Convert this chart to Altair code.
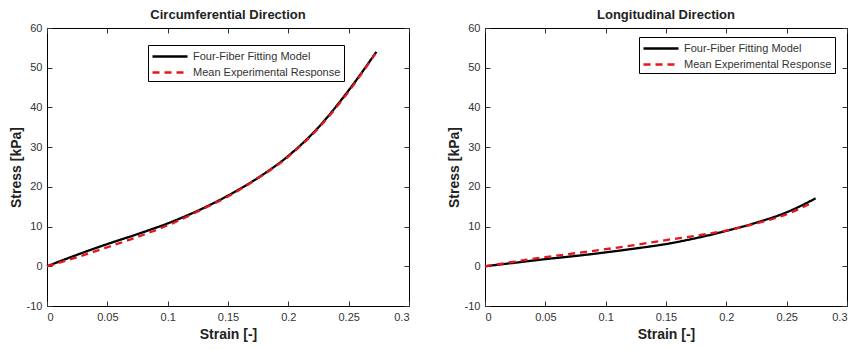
import altair as alt
import pandas as pd

SERIES = ["Four-Fiber Fitting Model", "Mean Experimental Response"]
X_TICKS = [0, 0.05, 0.1, 0.15, 0.2, 0.25, 0.3]
Y_TICKS = [-10, 0, 10, 20, 30, 40, 50, 60]

# Circumferential direction
circ_model_strain = [0, 0.025, 0.05, 0.075, 0.1, 0.125, 0.15, 0.175, 0.2, 0.225, 0.25, 0.273]
circ_model_stress = [0, 2.9, 5.6, 8.1, 10.8, 14.0, 17.8, 22.3, 27.8, 35.0, 44.3, 54.0]
circ_exp_strain = [0, 0.025, 0.05, 0.075, 0.1, 0.125, 0.15, 0.175, 0.2, 0.225, 0.25, 0.272]
circ_exp_stress = [0, 2.3, 4.8, 7.4, 10.3, 13.8, 17.6, 22.2, 27.6, 34.8, 44.0, 53.5]

# Longitudinal direction
long_model_strain = [0, 0.025, 0.05, 0.075, 0.1, 0.125, 0.15, 0.175, 0.2, 0.225, 0.25, 0.274]
long_model_stress = [0, 0.9, 1.8, 2.6, 3.5, 4.5, 5.6, 7.1, 8.9, 11.0, 13.6, 17.1]
long_exp_strain = [0, 0.025, 0.05, 0.075, 0.1, 0.125, 0.15, 0.175, 0.2, 0.225, 0.25, 0.271]
long_exp_stress = [0, 1.2, 2.3, 3.3, 4.3, 5.4, 6.6, 7.7, 9.0, 10.8, 13.1, 16.0]

H = 278
LABEL_COLOR = "#333333"


def panel(title, mx, my, ex, ey, lx, ly, width):
    df = pd.DataFrame({
        "strain": mx + ex,
        "stress": my + ey,
        "series": [SERIES[0]] * len(mx) + [SERIES[1]] * len(ex),
    })
    xs = alt.Scale(domain=[0, 0.3], nice=False, zero=False)
    ys = alt.Scale(domain=[-10, 60], nice=False, zero=False)
    legend = alt.Legend(
        title=None, orient="none", legendX=lx, legendY=ly,
        strokeColor="black", fillColor="white", padding=3,
        labelFontSize=11, labelColor=LABEL_COLOR, labelFont="Liberation Sans",
        symbolType="M-1,0H4", symbolSize=196, symbolStrokeWidth=2.5,
        rowPadding=2, labelOffset=25,
    )
    main = alt.Chart(df).mark_line(strokeWidth=2.3, interpolate="monotone").encode(
        x=alt.X("strain:Q", scale=xs, title="Strain [-]",
                axis=alt.Axis(values=X_TICKS, orient="bottom", offset=-5, tickSize=5,
                              domain=False, labelPadding=5, titlePadding=5,
                              labelExpr="'' + datum.value")),
        y=alt.Y("stress:Q", scale=ys, title="Stress [kPa]",
                axis=alt.Axis(values=Y_TICKS, orient="left", offset=-5, tickSize=5,
                              domain=False, labelPadding=5, titlePadding=3,
                              labelExpr="'' + datum.value")),
        color=alt.Color("series:N", scale=alt.Scale(domain=SERIES, range=["#000000", "#e3171d"]),
                        legend=legend),
        strokeDash=alt.StrokeDash("series:N", scale=alt.Scale(domain=SERIES, range=[[1, 0], [7, 5]]),
                                  legend=legend),
    )
    frame = alt.Chart(df).mark_line(strokeOpacity=0).encode(
        x=alt.X("strain:Q", scale=xs,
                axis=alt.Axis(values=X_TICKS, orient="top", offset=-5, tickSize=5,
                              domain=False, labels=False, title=None)),
        y=alt.Y("stress:Q", scale=ys,
                axis=alt.Axis(values=Y_TICKS, orient="right", offset=-5, tickSize=5,
                              domain=False, labels=False, title=None)),
        detail="series:N",
    )
    return alt.layer(frame, main).resolve_axis(x="independent", y="independent").properties(
        width=width, height=H,
        title=alt.TitleParams(title, fontSize=13, fontWeight="bold", offset=0,
                              font="Liberation Sans", color="#222222"),
    )


left = panel("Circumferential Direction", circ_model_strain, circ_model_stress,
             circ_exp_strain, circ_exp_stress, 101, 17, 362)
right = panel("Longitudinal Direction", long_model_strain, long_model_stress,
              long_exp_strain, long_exp_stress, 154, 9, 362)

chart = alt.hconcat(left, right, spacing=36).resolve_scale(
    color="independent", strokeDash="independent"
).configure(
    font="Liberation Sans", padding=0, background="white"
).configure_view(
    stroke="#000000", strokeWidth=1
).configure_axis(
    grid=False, labelFontSize=11, labelColor=LABEL_COLOR, tickColor="#333333",
    titleFontSize=14, titleFontWeight="bold", titleColor="#222222",
    labelFont="Liberation Sans", titleFont="Liberation Sans",
)

chart.save("out.html", embed_options={"renderer": "svg", "actions": False})
